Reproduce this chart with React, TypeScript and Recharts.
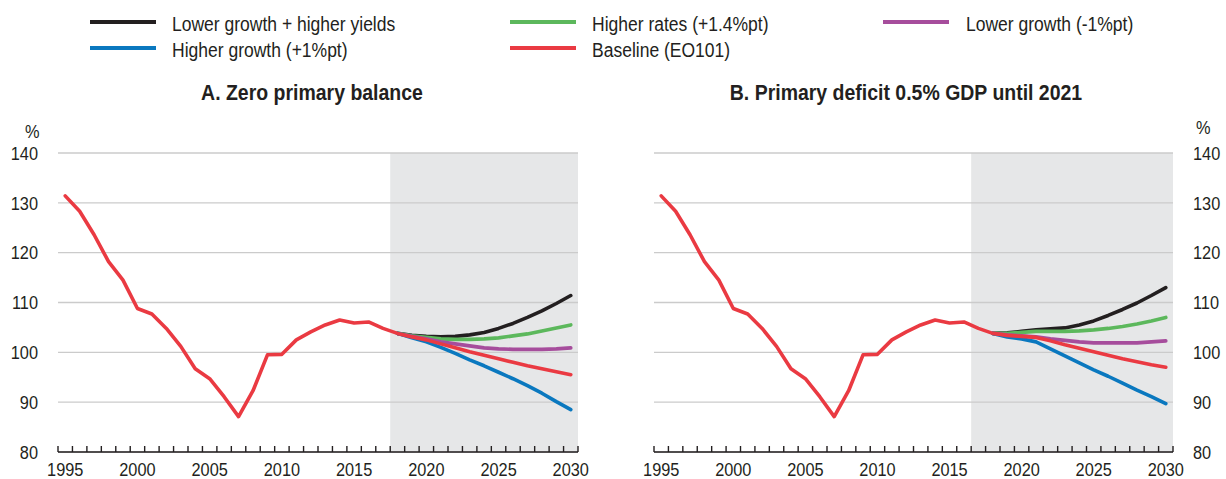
import { CartesianGrid, Line, LineChart, ReferenceArea, XAxis, YAxis } from "recharts";

// Government debt, % of GDP. History shared by both panels, scenarios from 2019.
const YEARS = [
  1995, 1996, 1997, 1998, 1999, 2000, 2001, 2002, 2003, 2004, 2005, 2006,
  2007, 2008, 2009, 2010, 2011, 2012, 2013, 2014, 2015, 2016, 2017, 2018,
  2019, 2020, 2021, 2022, 2023, 2024, 2025, 2026, 2027, 2028, 2029, 2030,
];
const HISTORY = [
  131.4, 128.3, 123.6, 118.2, 114.5, 108.8, 107.7, 104.8, 101.2, 96.7, 94.7, 91.1,
  87.1, 92.3, 99.5, 99.6, 102.5, 104.1, 105.5, 106.5, 105.9, 106.1, 104.8, 103.8,
];

// Panel A: zero primary balance
const BLACK_A = [103.4, 103.2, 103.1, 103.2, 103.5, 104.0, 104.8, 105.8, 107.0, 108.3, 109.8, 111.4];
const GREEN_A = [103.3, 103.0, 102.7, 102.6, 102.6, 102.7, 102.9, 103.3, 103.7, 104.3, 104.9, 105.5];
const PURPLE_A = [103.2, 102.7, 102.1, 101.7, 101.3, 100.9, 100.7, 100.6, 100.6, 100.6, 100.7, 100.9];
const BLUE_A = [102.9, 102.1, 101.0, 99.8, 98.5, 97.3, 96.0, 94.7, 93.3, 91.8, 90.1, 88.5];
const RED_A = [103.1, 102.5, 101.7, 100.9, 100.1, 99.4, 98.7, 98.0, 97.3, 96.7, 96.1, 95.5];

// Panel B: primary deficit 0.5% GDP until 2021
const BLACK_B = [103.9, 104.2, 104.5, 104.7, 104.9, 105.5, 106.3, 107.4, 108.6, 109.9, 111.4, 113.0];
const GREEN_B = [103.8, 104.0, 104.2, 104.2, 104.2, 104.3, 104.5, 104.8, 105.2, 105.7, 106.3, 107.0];
const PURPLE_B = [103.5, 103.3, 103.1, 102.7, 102.4, 102.1, 101.9, 101.9, 101.9, 101.9, 102.1, 102.3];
const BLUE_B = [103.1, 102.7, 102.1, 100.7, 99.3, 97.9, 96.5, 95.2, 93.8, 92.4, 91.1, 89.7];
const RED_B = [103.4, 103.2, 103.0, 102.3, 101.5, 100.8, 100.1, 99.4, 98.7, 98.1, 97.5, 97.0];

const Y_TICKS = [80, 90, 100, 110, 120, 130, 140];

// no condensed Helvetica offline: squeeze Liberation Sans horizontally instead
const FONT = "'Liberation Sans', Arial, sans-serif";
const SQUEEZE = 0.86;
const INK = "#231f20";
const GRID = "#cbcbcb";
const SHADE = "#e6e7e8";

const SERIES = [
  { key: "black", name: "Lower growth + higher yields", color: "#231f20" },
  { key: "green", name: "Higher rates (+1.4%pt)", color: "#5cb85c" },
  { key: "purple", name: "Lower growth (-1%pt)", color: "#a64d9c" },
  { key: "blue", name: "Higher growth (+1%pt)", color: "#0a78bf" },
  { key: "red", name: "Baseline (EO101)", color: "#ea3a42" },
];

// legend sits in three columns, read top-to-bottom
const LEGEND_POS: Record<string, { swatch: number; text: number; row: number }> = {
  black: { swatch: 90, text: 172, row: 0 },
  blue: { swatch: 90, text: 172, row: 1 },
  green: { swatch: 510, text: 592, row: 0 },
  red: { swatch: 510, text: 592, row: 1 },
  purple: { swatch: 883, text: 966, row: 0 },
};

type Scen = { black: number[]; green: number[]; purple: number[]; blue: number[]; red: number[] };

function buildRows(s: Scen) {
  const h = HISTORY.length;
  return YEARS.map((year, i) => {
    const hist = i < h ? HISTORY[i] : null;
    const pick = (arr: number[]) => (i < h - 1 ? null : i === h - 1 ? HISTORY[i] : arr[i - h]);
    return {
      year,
      red: hist ?? s.red[i - h],
      black: pick(s.black),
      green: pick(s.green),
      purple: pick(s.purple),
      blue: pick(s.blue),
    };
  });
}

const BOUNDS = YEARS.map((y) => y - 0.5).concat(YEARS[YEARS.length - 1] + 0.5);

function Squeezed({ x, y, anchor, children }: { x: number; y: number; anchor: string; children: any }) {
  return (
    <text
      transform={`translate(${x},${y}) scale(${SQUEEZE},1)`}
      dy="0.355em"
      textAnchor={anchor}
      fill={INK}
      fontSize={19}
      fontFamily={FONT}
    >
      {children}
    </text>
  );
}

function YearTick(props: any) {
  const { x, y, payload, width } = props;
  const half = (width || 520) / YEARS.length / 2;
  const label = payload.value + 0.5;
  const show = label % 5 === 0 && label <= YEARS[YEARS.length - 1];
  return (
    <g>
      <line x1={x} x2={x} y1={y} y2={y - 6} stroke={INK} strokeWidth={1.4} />
      {show && (
        <Squeezed x={x + half} y={y + 17} anchor="middle">
          {label}
        </Squeezed>
      )}
    </g>
  );
}

function ValueTick(props: any) {
  const { x, y, payload, textAnchor } = props;
  return (
    <Squeezed x={x} y={y} anchor={textAnchor}>
      {payload.value}
    </Squeezed>
  );
}

function Panel({ data, side, shadeFrom }: { data: any[]; side: "left" | "right"; shadeFrom: number }) {
  const left = side === "left";
  return (
    <LineChart
      width={left ? 600 : 626}
      height={479}
      data={data}
      margin={left ? { top: 153, right: 22, bottom: 0, left: 8 } : { top: 153, right: 8, bottom: 0, left: 54 }}
    >
      <ReferenceArea
        x1={shadeFrom}
        x2={BOUNDS[BOUNDS.length - 1]}
        y1={80}
        y2={140}
        fill={SHADE}
        fillOpacity={1}
        stroke="none"
        zIndex={-150}
      />
      <CartesianGrid vertical={false} stroke={GRID} strokeWidth={1.4} />
      <XAxis
        dataKey="year"
        type="number"
        domain={[BOUNDS[0], BOUNDS[BOUNDS.length - 1]]}
        ticks={BOUNDS}
        interval={0}
        tickSize={0}
        tickMargin={0}
        tickLine={false}
        tick={<YearTick />}
        axisLine={{ stroke: INK, strokeWidth: 1.6 }}
        height={27}
      />
      <YAxis
        orientation={side}
        domain={[80, 140]}
        ticks={Y_TICKS}
        interval={0}
        axisLine={false}
        tickLine={false}
        tickSize={0}
        tickMargin={20}
        width={left ? 50 : 45}
        tick={<ValueTick />}
      />
      {SERIES.map((s) => (
        <Line
          key={s.key}
          dataKey={s.key}
          type="linear"
          stroke={s.color}
          strokeWidth={3.6}
          strokeLinecap="round"
          strokeLinejoin="round"
          dot={false}
          activeDot={false}
          connectNulls={false}
          isAnimationActive={false}
        />
      ))}
    </LineChart>
  );
}

const dataA = buildRows({ black: BLACK_A, green: GREEN_A, purple: PURPLE_A, blue: BLUE_A, red: RED_A });
const dataB = buildRows({ black: BLACK_B, green: GREEN_B, purple: PURPLE_B, blue: BLUE_B, red: RED_B });

const textStyle = { fontFamily: FONT, color: INK, position: "absolute" as const, whiteSpace: "nowrap" as const };

function Title({ center, children }: { center: number; children: string }) {
  return (
    <div
      style={{
        ...textStyle,
        left: center - 300,
        width: 600,
        top: 79,
        textAlign: "center",
        fontSize: 22,
        fontWeight: 700,
        lineHeight: "28px",
        transform: "scaleX(0.885)",
      }}
    >
      {children}
    </div>
  );
}

export default function App() {
  return (
    <div style={{ position: "absolute", left: 0, top: 0, width: 1226, height: 479, background: "#fff", overflow: "hidden" }}>
      {SERIES.map((s) => {
        const p = LEGEND_POS[s.key];
        const cy = 22 + p.row * 26;
        return (
          <div key={s.key}>
            <div style={{ position: "absolute", left: p.swatch, top: cy - 2, width: 66, height: 4, background: s.color }} />
            <div
              style={{
                ...textStyle,
                left: p.text,
                top: cy - 10,
                fontSize: 20,
                lineHeight: "24px",
                transform: "scaleX(0.875)",
                transformOrigin: "left center",
              }}
            >
              {s.name}
            </div>
          </div>
        );
      })}
      <Title center={312}>A. Zero primary balance</Title>
      <Title center={906}>B. Primary deficit 0.5% GDP until 2021</Title>
      <div style={{ ...textStyle, left: 25, top: 121, fontSize: 19, lineHeight: "22px", transform: `scaleX(${SQUEEZE})`, transformOrigin: "left center" }}>
        %
      </div>
      <div style={{ ...textStyle, left: 1196, top: 117, fontSize: 19, lineHeight: "22px", transform: `scaleX(${SQUEEZE})`, transformOrigin: "left center" }}>
        %
      </div>
      <div style={{ position: "absolute", left: 0, top: 0 }}>
        <Panel data={dataA} side="left" shadeFrom={2017.5} />
      </div>
      <div style={{ position: "absolute", left: 600, top: 0 }}>
        <Panel data={dataB} side="right" shadeFrom={2016.5} />
      </div>
    </div>
  );
}
